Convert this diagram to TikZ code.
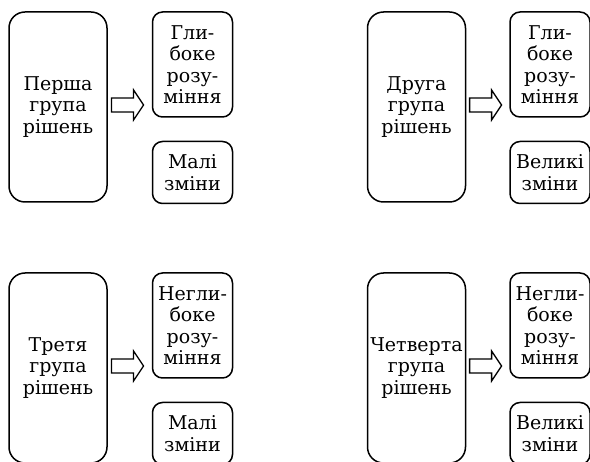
\documentclass[tikz,border=0pt]{standalone}
\usepackage{fontspec}
\setmainfont{DejaVu Serif}
\usetikzlibrary{positioning,calc}

\tikzset{
  bigbox/.style={draw, line width=1.5pt, rounded corners=16pt, minimum width=98pt,
    minimum height=190pt, align=center, inner sep=0pt, font=\fontsize{19}{21.5}\selectfont},
  topbox/.style={draw, line width=1.5pt, rounded corners=10pt, minimum width=80pt,
    minimum height=105pt, align=center, inner sep=0pt, font=\fontsize{19}{21.5}\selectfont},
  lowbox/.style={topbox, minimum height=62pt},
  arrowline/.style={draw, line width=1.3pt, line join=miter}
}

\begin{document}
\begin{tikzpicture}[x=1pt, y=-1pt]
  \useasboundingbox (0,0) rectangle (590,462);

  % groups of decisions
  \node[bigbox] (g1) at (58,107)    {Перша\\група\\рішень};
  \node[bigbox] (g2) at (416.5,107) {Друга\\група\\рішень};
  \node[bigbox] (g3) at (58,368)    {Третя\\група\\рішень};
  \node[bigbox] (g4) at (416.5,368) {Четверта\\група\\рішень};

  % understanding
  \node[topbox, below right=0pt and 44pt of g1.north east] (u1) {Гли-\\боке\\розу-\\міння};
  \node[topbox, below right=0pt and 43pt of g2.north east] (u2) {Гли-\\боке\\розу-\\міння};
  \node[topbox, below right=0pt and 44pt of g3.north east] (u3) {Негли-\\боке\\розу-\\міння};
  \node[topbox, below right=0pt and 43pt of g4.north east] (u4) {Негли-\\боке\\розу-\\міння};

  % changes
  \node[lowbox, below=23pt of u1] (c1) {Малі\\зміни};
  \node[lowbox, below=23pt of u2] (c2) {Великі\\зміни};
  \node[lowbox, below=23pt of u3] (c3) {Малі\\зміни};
  \node[lowbox, below=23pt of u4] (c4) {Великі\\зміни};

  % hollow arrows between the boxes
  \foreach \i in {1,...,4} {
    \coordinate (a\i) at ($(g\i.east)!0.45!(g\i.east -| u\i.west) + (0,-2)$);
    \draw[arrowline] ($(a\i)+(-16,-7)$) -- ++(22,0) -- ++(0,-8) -- ++(10,15)
      -- ++(-10,15) -- ++(0,-8) -- ++(-22,0) -- cycle;
  }
\end{tikzpicture}
\end{document}
